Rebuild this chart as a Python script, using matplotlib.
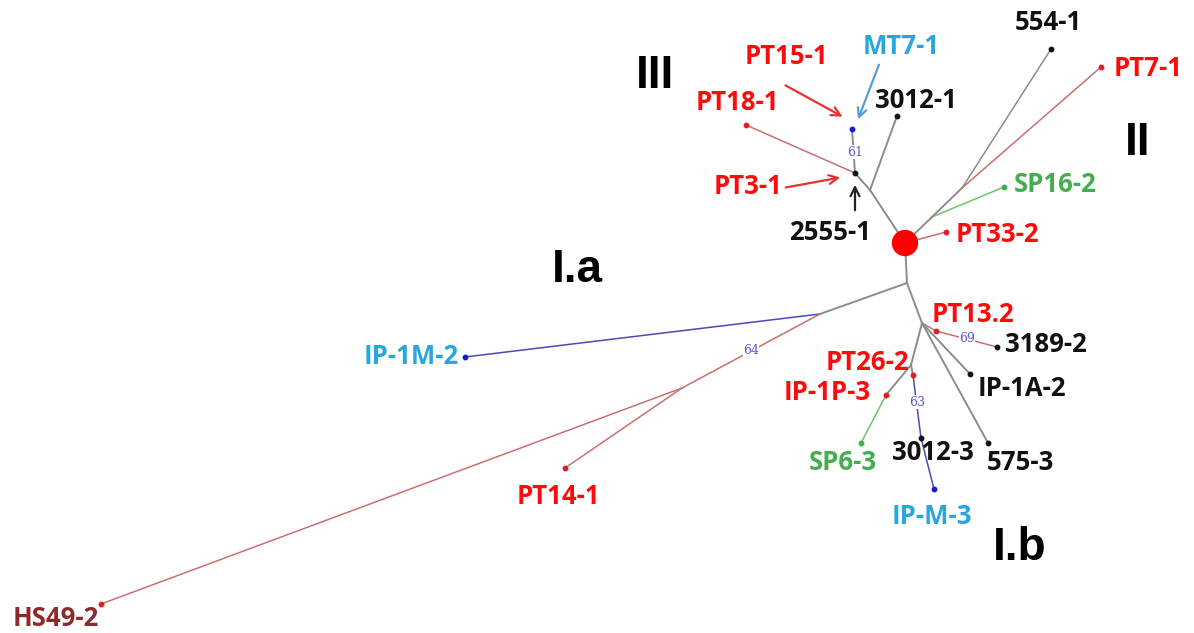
import matplotlib.pyplot as plt
from matplotlib.patches import Circle

# node positions (pixels, y down)
node_names = ["root", "A", "C", "D", "B", "H", "I", "P26", "P1P", "K", "E", "G", "F",
              "IP-1M-2", "HS49-2", "PT14-1", "3189-2", "IP-1A-2", "575-3", "SP6-3",
              "3012-3", "IP-M-3", "3012-1", "MT7-1", "PT18-1", "554-1", "PT7-1",
              "SP16-2", "PT33-2"]
node_x = [905, 907, 820, 682, 922, 936, 911, 913, 886, 870, 855, 932, 962,
          465, 101, 565, 997, 970, 988, 861,
          921, 934, 897, 852, 746, 1051, 1101,
          1004, 946]
node_y = [243, 283, 314, 388, 323, 331, 365, 375, 395, 190, 173, 217, 188,
          357, 604, 468, 347, 374, 443, 443,
          438, 489, 116, 129, 125, 49, 67,
          187, 232]

edge_from = ["root", "A", "C", "C", "D", "D", "A", "B", "H", "B", "B", "B", "I", "P1P",
             "I", "P26", "3012-3", "root", "K", "K", "E", "E", "root", "G", "G", "F", "F", "root"]
edge_to = ["A", "C", "IP-1M-2", "D", "HS49-2", "PT14-1", "B", "H", "3189-2", "IP-1A-2",
           "575-3", "I", "P1P", "SP6-3", "P26", "3012-3", "IP-M-3", "K", "3012-1", "E",
           "MT7-1", "PT18-1", "G", "SP16-2", "F", "554-1", "PT7-1", "PT33-2"]
edge_col = ["grey", "grey", "blue", "red", "red", "red", "grey", "red", "red", "grey",
            "grey", "grey", "grey", "green", "grey", "blue", "blue", "grey", "grey", "grey",
            "grey", "red", "grey", "green", "grey", "grey", "red", "red"]

dot_nodes = ["IP-1M-2", "HS49-2", "PT14-1", "H", "3189-2", "IP-1A-2", "575-3", "SP6-3",
             "P1P", "P26", "3012-3", "IP-M-3", "3012-1", "MT7-1", "E", "PT18-1",
             "554-1", "PT7-1", "SP16-2", "PT33-2"]
dot_col = ["blue", "red", "red", "red", "black", "black", "black", "green",
           "red", "red", "black", "blue", "black", "blue", "black", "red",
           "black", "red", "green", "red"]

# bootstrap values on branches
boot_text = ["61", "64", "69", "63"]
boot_x = [855, 751, 967, 917]
boot_y = [152, 350, 338, 402]

labels = ["554-1", "PT7-1", "MT7-1", "PT15-1", "3012-1", "PT18-1", "PT3-1", "2555-1",
          "SP16-2", "PT33-2", "PT13.2", "3189-2", "IP-1A-2", "PT26-2", "IP-1P-3",
          "SP6-3", "3012-3", "575-3", "IP-M-3", "IP-1M-2", "PT14-1", "HS49-2"]
label_x = [1048, 1148, 901, 786, 916, 737, 748, 830, 1055, 997, 973, 1046, 1022, 867,
           827, 843, 933, 1020, 932, 411, 558, 56]
label_y = [22, 68, 47, 57, 100, 103, 187, 233, 185, 235, 315, 345, 388, 362,
           393, 462, 453, 462, 517, 357, 497, 618]
label_col = ["black", "red", "cyan", "red", "black", "red", "red", "black",
             "green", "red", "red", "black", "black", "red", "red",
             "green", "black", "black", "cyan", "cyan", "red", "darkred"]

groups = ["III", "II", "I.a", "I.b"]
group_x = [655, 1138, 577, 1020]
group_y = [76, 143, 270, 548]

line_colors = {"grey": "#8c8c8c", "red": "#c9706f", "blue": "#4a4ab8", "green": "#6cc46c"}
dot_colors = {"black": "#111111", "red": "#e02020", "blue": "#1a1acc", "green": "#3cb043"}
text_colors = {"black": "#111111", "red": "#ff0a0a", "cyan": "#2aa6de",
               "green": "#45ad4f", "darkred": "#8f2a2a"}

pos = {n: (x, y) for n, x, y in zip(node_names, node_x, node_y)}

fig = plt.figure(figsize=(11.94, 6.33), dpi=100)
ax = fig.add_axes([0, 0, 1, 1])
ax.set_xlim(0, 1194)
ax.set_ylim(633, 0)
ax.axis("off")

for a, b, c in zip(edge_from, edge_to, edge_col):
    lw = 1.4 if c == "grey" else 1.1
    if b == "554-1":
        lw = 1.1
    ax.plot([pos[a][0], pos[b][0]], [pos[a][1], pos[b][1]], color=line_colors[c], lw=lw, zorder=1)

for n, c in zip(dot_nodes, dot_col):
    ax.plot(pos[n][0], pos[n][1], "o", ms=3.2, color=dot_colors[c], zorder=3)

ax.add_patch(Circle(pos["root"], 12.5, color="#ff0000", zorder=4))

for t, x, y in zip(boot_text, boot_x, boot_y):
    ax.text(x, y, t, fontsize=9, color="#5a5ad6", ha="center", va="center", family="DejaVu Serif",
            bbox=dict(facecolor="white", edgecolor="none", pad=0.2), zorder=2)

for t, x, y, c in zip(labels, label_x, label_y, label_col):
    ax.text(x, y, t, fontsize=18.5, fontweight="bold", color=text_colors[c],
            ha="center", va="center", family="Open Sans")

for t, x, y in zip(groups, group_x, group_y):
    ax.text(x, y, t, fontsize=33, fontweight="bold", color="black",
            ha="center", va="center", family="Liberation Sans")

# pointer arrows
ax.annotate("", xy=(845, 118), xytext=(783, 84),
            arrowprops=dict(arrowstyle="->", color="#e8312f", lw=1.6, mutation_scale=16))
ax.annotate("", xy=(857, 122), xytext=(880, 62),
            arrowprops=dict(arrowstyle="->", color="#5b9bd5", lw=1.6, mutation_scale=16))
ax.annotate("", xy=(843, 177), xytext=(783, 188),
            arrowprops=dict(arrowstyle="->", color="#e8312f", lw=1.6, mutation_scale=16))
ax.annotate("", xy=(855, 182), xytext=(855, 213),
            arrowprops=dict(arrowstyle="->", color="#222222", lw=1.6, mutation_scale=16))

fig.savefig("out.png", dpi=100, facecolor="white")
